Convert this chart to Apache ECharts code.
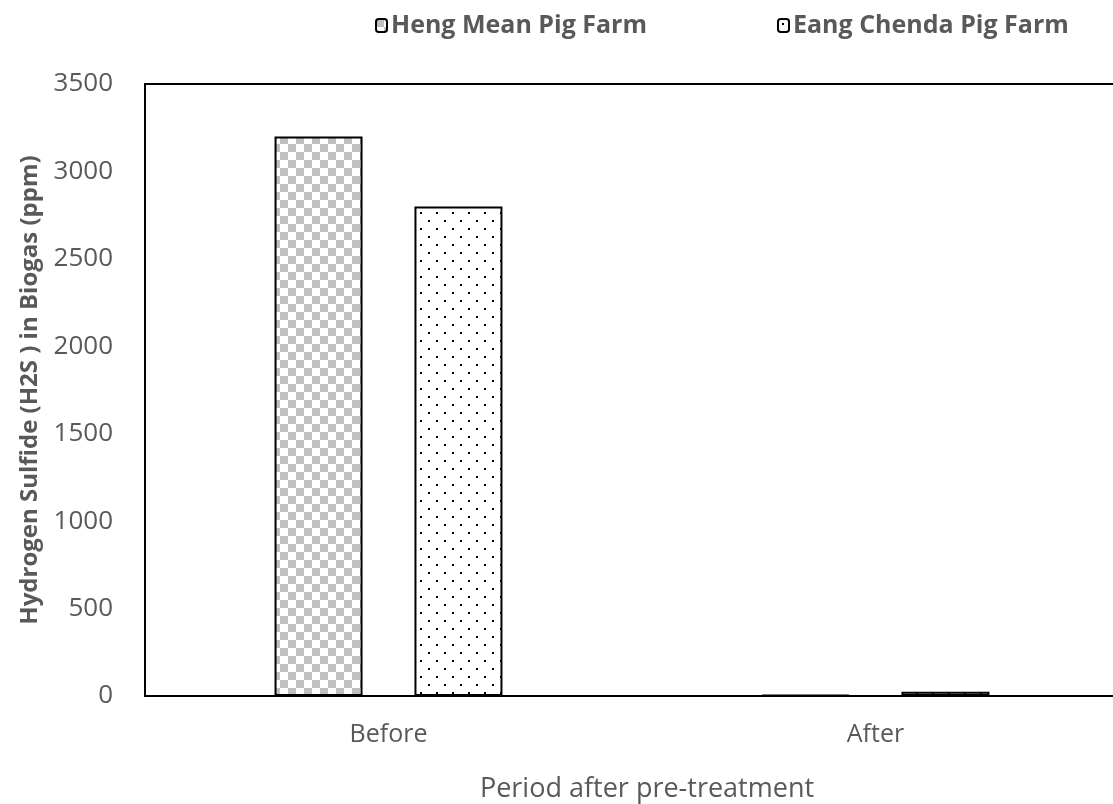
<!DOCTYPE html>
<html>
<head>
<meta charset="utf-8">
<script src="https://cdn.jsdelivr.net/npm/echarts@6/dist/echarts.min.js"></script>
<style>
html,body{margin:0;padding:0;background:#fff;overflow:hidden;}
#chart{width:1113px;height:804px;}
</style>
</head>
<body>
<div id="chart"></div>
<script>
var categories = ['Before', 'After'];
var hengMean = [3200, 5];
var eangChenda = [2800, 25];
var seriesNames = ['Heng Mean Pig Farm', 'Eang Chenda Pig Farm'];
var yTicks = [0, 500, 1000, 1500, 2000, 2500, 3000, 3500];

function checkerPattern() {
  var c = document.createElement('canvas');
  c.width = 16; c.height = 16;
  var ctx = c.getContext('2d');
  ctx.fillStyle = '#ffffff'; ctx.fillRect(0, 0, 16, 16);
  ctx.fillStyle = '#c0c0c0';
  ctx.fillRect(0, 0, 8, 8);
  ctx.fillRect(8, 8, 8, 8);
  return c;
}
function dotPattern() {
  var c = document.createElement('canvas');
  c.width = 16; c.height = 16;
  var ctx = c.getContext('2d');
  ctx.fillStyle = '#ffffff'; ctx.fillRect(0, 0, 16, 16);
  ctx.fillStyle = '#000000';
  ctx.fillRect(4, 4, 2, 2);
  ctx.fillRect(12, 12, 2, 2);
  return c;
}

var chart = echarts.init(document.getElementById('chart'), null, {renderer: 'canvas'});
var font = '"Open Sans", "Noto Sans", sans-serif';
var legendText = {fontFamily: font, fontSize: 25, fontWeight: 'bold', color: '#595959', padding: [0, 0, 0, -1]};
chart.setOption({
  animation: false,
  backgroundColor: '#ffffff',
  legend: [
    {top: 8, left: 370, itemWidth: 11, itemHeight: 13, itemGap: 0, textStyle: legendText, data: [seriesNames[0]]},
    {top: 8, left: 772, itemWidth: 11, itemHeight: 13, itemGap: 0, textStyle: legendText, data: [seriesNames[1]]}
  ],
  grid: {
    left: 145, right: -6, top: 84, bottom: 108,
    outerBoundsMode: 'none', containLabel: false,
    show: true, borderColor: '#000', borderWidth: 2, backgroundColor: 'transparent'
  },
  xAxis: {
    type: 'category',
    data: categories,
    name: 'Period after pre-treatment',
    nameLocation: 'middle',
    nameGap: 80,
    nameTextStyle: {fontFamily: font, fontSize: 27, color: '#595959', padding: [0, 0, 0, 30]},
    axisLine: {lineStyle: {color: '#000', width: 2}},
    axisTick: {show: false},
    axisLabel: {fontFamily: font, fontSize: 25, color: '#595959', margin: 26}
  },
  yAxis: {
    type: 'value',
    min: 0, max: 3500, interval: 500,
    name: 'Hydrogen Sulfide (H2S ) in Biogas (ppm)',
    nameLocation: 'middle',
    nameGap: 102,
    nameTextStyle: {fontFamily: font, fontSize: 24, fontWeight: 'bold', color: '#595959'},
    axisLine: {show: true, lineStyle: {color: '#000', width: 2}},
    axisTick: {show: false},
    splitLine: {show: false},
    axisLabel: {
      fontFamily: font, fontSize: 26, color: '#595959', margin: 32,
      formatter: function (v) { return yTicks.indexOf(v) >= 0 ? String(v) : ''; }
    }
  },
  series: [
    {
      name: seriesNames[0], type: 'bar', data: hengMean,
      barWidth: 88, barGap: '59%',
      itemStyle: {color: {image: checkerPattern(), repeat: 'repeat'}, borderColor: '#000', borderWidth: 2}
    },
    {
      name: seriesNames[1], type: 'bar', data: eangChenda,
      barWidth: 88, barGap: '59%',
      itemStyle: {color: {image: dotPattern(), repeat: 'repeat'}, borderColor: '#000', borderWidth: 2}
    }
  ]
});
</script>
</body>
</html>
